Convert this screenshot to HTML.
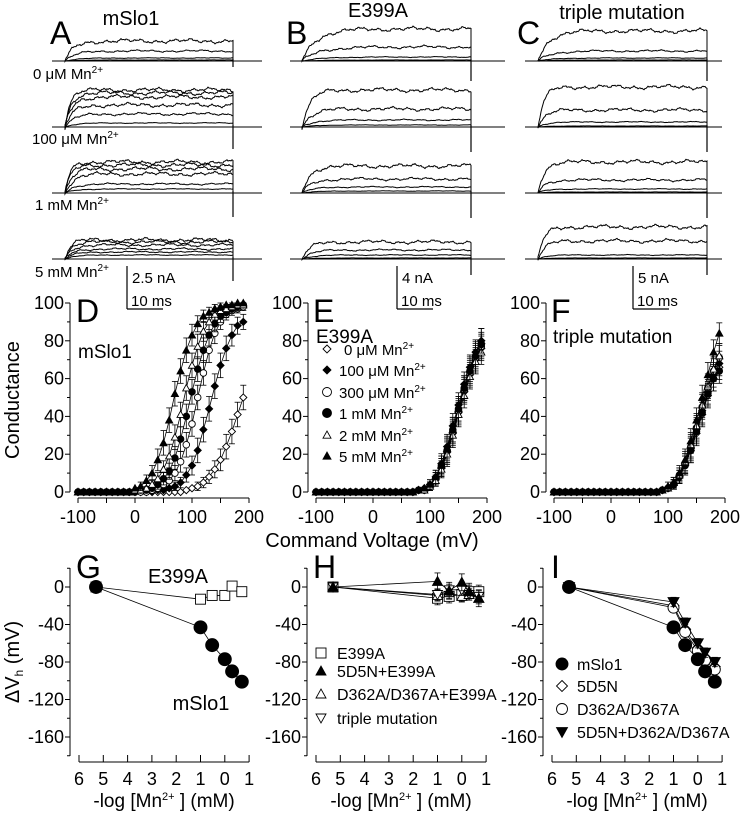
<!DOCTYPE html>
<html><head><meta charset="utf-8"><style>
body{margin:0;background:#fff}
svg{display:block}
text{font-family:"Liberation Sans",Arial,sans-serif}
</style></head><body>
<svg id="fig" width="742" height="815" viewBox="0 0 742 815" xmlns="http://www.w3.org/2000/svg" font-family="Liberation Sans, Arial, sans-serif"></svg>
<script>
// ---------- DATA ----------
const voltages=[-100,-90,-80,-70,-60,-50,-40,-30,-20,-10,0,10,20,30,40,50,60,70,80,90,100,110,120,130,140,150,160,170,180,190];
const dLabels=['0 μM','100 μM','300 μM','1 mM','2 mM','5 mM'];
const dMarkers=['dia-open','dia-fill','circ-open','circ-fill','tri-open','tri-fill'];
const mslo_0   =[0,0,0,0,0,0,0,0,0,0,0,0,0,0,0,0,0,0,0,1,2,3,5,8,12,17,24,32,41,50];
const mslo_100u=[0,0,0,0,0,0,0,0,0,0,0,0,0,0,1,1,2,3,5,9,14,22,33,44,56,67,76,83,88,90];
const mslo_300u=[0,0,0,0,0,0,0,0,0,0,0,0,0,1,2,4,6,10,16,25,36,50,63,75,84,90,94,96,97,98];
const mslo_1m  =[0,0,0,0,0,0,0,0,0,0,0,1,1,2,4,7,11,18,28,40,53,65,75,83,89,93,95,97,98,99];
const mslo_2m  =[0,0,0,0,0,0,0,0,0,0,1,1,2,4,7,12,19,29,41,55,67,77,85,90,94,96,97,98,99,99];
const mslo_5m  =[0,0,0,0,0,0,0,0,0,0,2,3,6,10,17,26,38,52,64,75,83,89,93,95,97,98,99,99,100,100];
const e399_0   =[0,0,0,0,0,0,0,0,0,0,0,0,0,0,0,0,0,0,1,1,3,7,13,21,31,42,53,62,70,76];
const e399_100u=[0,0,0,0,0,0,0,0,0,0,0,0,0,0,0,0,0,0,1,2,4,8,15,24,35,46,57,66,74,80];
const e399_300u=[0,0,0,0,0,0,0,0,0,0,0,0,0,0,0,0,0,0,1,1,3,7,13,22,32,43,54,63,71,77];
const e399_1m  =[0,0,0,0,0,0,0,0,0,0,0,0,0,0,0,0,0,0,1,1,3,7,14,22,33,44,55,64,72,78];
const e399_2m  =[0,0,0,0,0,0,0,0,0,0,0,0,0,0,0,0,0,0,1,1,3,6,12,20,30,41,51,61,69,74];
const e399_5m  =[0,0,0,0,0,0,0,0,0,0,0,0,0,0,0,0,0,0,1,2,4,8,14,23,33,44,55,65,73,80];
const tri_0    =[0,0,0,0,0,0,0,0,0,0,0,0,0,0,0,0,0,0,0,1,2,4,8,14,22,31,41,51,60,66];
const tri_100u =[0,0,0,0,0,0,0,0,0,0,0,0,0,0,0,0,0,0,0,1,2,4,8,15,23,33,43,53,62,68];
const tri_300u =[0,0,0,0,0,0,0,0,0,0,0,0,0,0,0,0,0,0,0,1,2,4,9,15,24,34,45,55,64,71];
const tri_1m   =[0,0,0,0,0,0,0,0,0,0,0,0,0,0,0,0,0,0,0,1,2,4,8,14,22,32,42,52,60,64];
const tri_2m   =[0,0,0,0,0,0,0,0,0,0,0,0,0,0,0,0,0,0,0,1,2,5,9,16,25,35,46,56,65,72];
const tri_5m   =[0,0,0,0,0,0,0,0,0,0,0,0,0,0,0,0,0,0,0,1,3,5,10,17,27,38,50,62,74,84];
const logMn=[5.3,1,0.52,0,-0.3,-0.7];
const g_mslo =[0,-43,-62,-77,-90,-101];
const g_e399 =[0,-13,-9,-9,1,-5];
const h_e399 =[0,-12,-10,-8,-5,-5];
const h_5d5n_e399=[0,6,-4,5,-5,-12];
const h_d362_e399=[0,-9,-6,-10,-8,-12];
const h_triple=[0,-8,-3,-3,-8,-10];
const i_mslo=[0,-43,-62,-77,-90,-101];
const i_5d5n=[0,-20,-45,-65,-75,-85];
const i_d362=[0,-22,-48,-68,-78,-88];
const i_5d5n_d362=[0,-16,-38,-60,-70,-80];
const traceA=[[20,10,3,1],[37,34,30,22,13,4],[31,28,24,19,9,4],[19,17,14,10,7,4]];
const traceB=[[32,14,4,1],[37,18,7,2],[27,14,6,2],[17,9,4,1]];
const traceC=[[30,10,3,1],[40,17,5,1],[31,13,4,1],[32,18,4,1]];

// ---------- HELPERS ----------
const svg=document.getElementById('fig');
const NS='http://www.w3.org/2000/svg';
function mk(tag,attrs,parent){const e=document.createElementNS(NS,tag);for(const k in attrs)e.setAttribute(k,attrs[k]);(parent||svg).appendChild(e);return e;}
function txt(x,y,s,size,anchor,parent){const t=mk('text',{x:x,y:y,'font-size':size,'text-anchor':anchor||'start',fill:'#000','font-family':'Liberation Sans, Arial, sans-serif'},parent);t.innerHTML=s;return t;}
function grp(name){const g=mk('g',{});return g;}
function marker(type,x,y,r,g){
  const fill=type.endsWith('fill')?'#000':'#fff';const sw=0.9;let e;
  if(type.startsWith('circ'))e=mk('circle',{cx:x,cy:y,r:r,fill:fill,stroke:'#000','stroke-width':sw},g);
  else if(type.startsWith('dia'))e=mk('polygon',{points:`${x},${y-r} ${x+r},${y} ${x},${y+r} ${x-r},${y}`,fill:fill,stroke:'#000','stroke-width':sw},g);
  else if(type.startsWith('itri'))e=mk('polygon',{points:`${x-r},${y-r*0.8} ${x+r},${y-r*0.8} ${x},${y+r}`,fill:fill,stroke:'#000','stroke-width':sw},g);
  else if(type.startsWith('tri'))e=mk('polygon',{points:`${x-r},${y+r*0.8} ${x+r},${y+r*0.8} ${x},${y-r}`,fill:fill,stroke:'#000','stroke-width':sw},g);
  else e=mk('rect',{x:x-r,y:y-r,width:2*r,height:2*r,fill:fill,stroke:'#000','stroke-width':sw},g);
  return e;
}
function line(x1,y1,x2,y2,g,w){return mk('line',{x1:x1,y1:y1,x2:x2,y2:y2,stroke:'#000','stroke-width':w||1},g);}
const SUP='<tspan font-size="10" dy="-6">2+</tspan>';

// ---------- TRACES ----------
function noise(i,k){return Math.sin(i*0.9+k*3.1)*0.5+Math.sin(i*0.37+k*1.7)*0.8+Math.sin(i*2.3+k)*0.4+Math.sin(i*0.11+k*5)*0.9;}
const rowBase=[61,127,193,259];
function tracePanel(amps,x0,x1,xs,xe,tauScale,name,tails){
  const g=grp(name);
  amps.forEach((row,r)=>{
    const b=rowBase[r];
    line(x0,b,x1,b,g,1);
    row.forEach((a,k)=>{
      let d=`M${xs},${b}`;const tau=(r===0?9:5)*tauScale*(1+k*0.2);
      for(let x=xs;x<=xe;x+=1){const t=x-xs;const y=b-a*(1-Math.exp(-t/tau))-noise(x,k+r*7)*Math.min(1.2,a*0.06);d+=` L${x},${y.toFixed(1)}`;}
      d+=` L${xe},${b}`;
      mk('path',{d:d,fill:'none',stroke:'#000','stroke-width':1},g);
    });
    line(xe,b-2,xe,b+tails[r],g,1.2);
  });
}
tracePanel(traceA,52,262,65,233,1,'traces-mslo1',[6,22,24,22]);
tracePanel(traceB,290,505,302,471,1.6,'traces-e399a',[20,25,25,16]);
tracePanel(traceC,525,722,538,707,1.2,'traces-triple',[20,25,25,16]);
const rl=grp('trace-condition-labels');
[['0 μM Mn'+SUP,33,79],['100 μM Mn'+SUP,32,144],['1 mM Mn'+SUP,35,210],['5 mM Mn'+SUP,35,277]].forEach(a=>txt(a[1],a[2],a[0],15,'start',rl));
const tl=grp('column-titles');
txt(131,25,'mSlo1',20,'middle',tl);txt(378,17,'E399A',20,'middle',tl);txt(622,19,'triple mutation',20,'middle',tl);
const ll=grp('panel-letters');
[['A',50,44],['B',286,44],['C',517,44],['D',76,322],['E',313,322],['F',551,322],['G',76,578],['H',313,578],['I',551,578]].forEach(a=>txt(a[1],a[2],a[0],32,'start',ll));
function scalebar(x,lab){const g=grp('scale-bar-'+lab.replace(/\s/g,''));line(x,266,x,309,g,1.2);txt(x+5,283,lab,15,'start',g);line(x,309,x+36,309,g,1.2);txt(x+4,306,'10 ms',15,'start',g);}
scalebar(127,'2.5 nA');scalebar(397,'4 nA');scalebar(633,'5 nA');

// ---------- G-V PANELS ----------
function xD(v,off){return 135+v*0.57+off;}
function yD(gv){return 492-gv*1.89;}
function gvPanel(off,series,name,err){
  const g=grp(name);
  line(70+off,303,70+off,492,g,1);
  for(let t=0;t<=100;t+=10){line(70+off-(t%20===0?5:3),yD(t),70+off,yD(t),g,1);if(t%20===0)txt(64+off,yD(t)+6,t,18,'end',g);}
  line(xD(-100,off),498,xD(200,off),498,g,1);
  for(let v=-100;v<=200;v+=50){line(xD(v,off),498,xD(v,off),503,g,1);if(v%100===0)txt(xD(v,off),523,v,18,'middle',g);}
  series.forEach(s=>{
    const sg=mk('g',{},g);
    let d='';voltages.forEach((v,i)=>{d+=(i?' L':'M')+xD(v,off)+','+yD(s.vals[i]);});
    mk('path',{d:d,fill:'none',stroke:'#000','stroke-width':0.8},sg);
    voltages.forEach((v,i)=>{const gv=s.vals[i];if(gv>2&&gv<99){const e=err*Math.min(1,gv/20)*Math.min(1,(100-gv)/20)+1.5;const x=xD(v,off);line(x,yD(gv+e),x,yD(gv-e),sg,0.8);line(x-3,yD(gv+e),x+3,yD(gv+e),sg,0.8);line(x-3,yD(gv-e),x+3,yD(gv-e),sg,0.8);}});
    voltages.forEach((v,i)=>marker(s.m,xD(v,off),yD(s.vals[i]),s.m.startsWith('circ')?3.3:3.6,sg));
  });
}
const mk6=(arrs)=>arrs.map((a,i)=>({vals:a,m:dMarkers[i],label:dLabels[i]}));
gvPanel(0,mk6([mslo_0,mslo_100u,mslo_300u,mslo_1m,mslo_2m,mslo_5m]),'panel-d-mslo1-gv',5);
gvPanel(238,mk6([e399_0,e399_100u,e399_300u,e399_1m,e399_2m,e399_5m]),'panel-e-e399a-gv',5);
gvPanel(476,mk6([tri_0,tri_100u,tri_300u,tri_1m,tri_2m,tri_5m]),'panel-f-triple-gv',5);
const at=grp('gv-axis-titles');
const yt=txt(0,0,'Conductance',20,'middle',at);yt.setAttribute('transform','translate(19,400) rotate(-90)');
txt(372,547,'Command Voltage (mV)',20,'middle',at);
const pt=grp('gv-panel-titles');
txt(78,358,'mSlo1',19,'start',pt);txt(316,343,'E399A',19,'start',pt);txt(553,343,'triple mutation',19,'start',pt);
const le=grp('legend-e');
[354,375,397,418,440,461].forEach((y,i)=>{marker(dMarkers[i],327,y-5,i===2||i===3?4.5:4,le);txt(339+(i===0?5:0),y+1,dLabels[i]+' Mn'+SUP,15,'start',le);});

// ---------- DELTA Vh PANELS ----------
function xG(l,off){return 79+(6-l)*24.3+off;}
function yG(dv){return 587-dv*0.9375;}
function dvPanel(off,series,name){
  const g=grp(name);
  line(70+off,568,70+off,756,g,1);
  for(let t=20;t>=-180;t-=20){line(70+off-(t%40===0?5:3),yG(t),70+off,yG(t),g,1);if(t%40===0&&t>-180)txt(64+off,yG(t)+6,t,18,'end',g);}
  line(xG(6,off),762,xG(-1,off),762,g,1);
  for(let l=6;l>=-1;l--){line(xG(l,off),755,xG(l,off),762,g,1);txt(xG(l,off),785,Math.abs(l),18,'middle',g);}
  txt(xG(2.5,off),807,'-log [Mn<tspan font-size="11" dy="-7">2+</tspan><tspan dy="7"> ] (mM)</tspan>',19,'middle',g);
  series.forEach(s=>{
    const sg=mk('g',{},g);
    let d='';logMn.forEach((l,i)=>{d+=(i?' L':'M')+xG(l,off)+','+yG(s.vals[i]);});
    mk('path',{d:d,fill:'none',stroke:'#000','stroke-width':0.8},sg);
    logMn.forEach((l,i)=>{if(i>0){const x=xG(l,off);line(x,yG(s.vals[i]+s.e),x,yG(s.vals[i]-s.e),sg,0.8);line(x-3,yG(s.vals[i]+s.e),x+3,yG(s.vals[i]+s.e),sg,0.8);line(x-3,yG(s.vals[i]-s.e),x+3,yG(s.vals[i]-s.e),sg,0.8);}});
    logMn.forEach((l,i)=>marker(s.m,xG(l,off),yG(s.vals[i]),s.r,sg));
  });
}
dvPanel(0,[{vals:g_e399,m:'sq-open',r:5,e:5,label:'e399a'},{vals:g_mslo,m:'circ-fill',r:6.5,e:4,label:'mslo1'}],'panel-g-delta-vh');
dvPanel(237,[{vals:h_e399,m:'sq-open',r:5,e:7,label:'e399a'},{vals:h_d362_e399,m:'tri-open',r:5,e:6,label:'d362a-d367a-e399a'},{vals:h_triple,m:'itri-open',r:5,e:6,label:'triple'},{vals:h_5d5n_e399,m:'tri-fill',r:5,e:9,label:'5d5n-e399a'}],'panel-h-delta-vh');
dvPanel(473,[{vals:i_5d5n,m:'dia-open',r:5.5,e:5,label:'5d5n'},{vals:i_d362,m:'circ-open',r:5.5,e:5,label:'d362a-d367a'},{vals:i_5d5n_d362,m:'itri-fill',r:5.5,e:5,label:'5d5n-d362a-d367a'},{vals:i_mslo,m:'circ-fill',r:6.5,e:4,label:'mslo1'}],'panel-i-delta-vh');
const dvt=grp('delta-vh-axis-title');
const dy=txt(0,0,'ΔV<tspan font-size="12" dy="4">h</tspan><tspan dy="-4"> (mV)</tspan>',20,'middle',dvt);dy.setAttribute('transform','translate(19,662) rotate(-90)');
const gl=grp('panel-g-labels');txt(178,583,'E399A',20,'middle',gl);txt(201,710,'mSlo1',20,'middle',gl);
const lh=grp('legend-h');
[['sq-open','E399A',659],['tri-fill','5D5N+E399A',677],['tri-open','D362A/D367A+E399A',700],['itri-open','triple mutation',724]].forEach(a=>{marker(a[0],321,a[2]-6,5,lh);txt(337,a[2],a[1],16,'start',lh);});
const li=grp('legend-i');
[['circ-fill','mSlo1',670],['dia-open','5D5N',692],['circ-open','D362A/D367A',715],['itri-fill','5D5N+D362A/D367A',738]].forEach(a=>{marker(a[0],562,a[2]-6,a[0]==='circ-fill'?6:5.5,li);txt(577,a[2],a[1],16,'start',li);});
</script>
</body></html>
